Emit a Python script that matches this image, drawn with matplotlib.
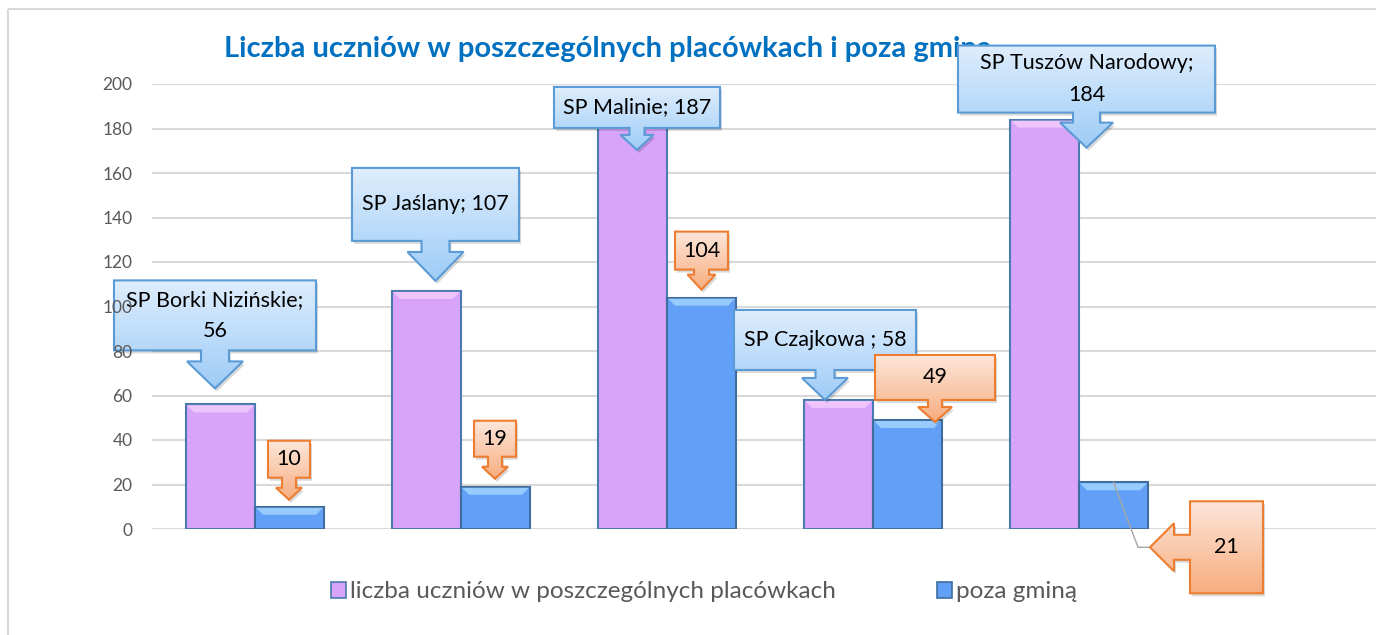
import numpy as np
import matplotlib.pyplot as plt
from matplotlib.patches import Polygon, Rectangle

plt.rcParams['font.family'] = ['Lato', 'DejaVu Sans']

# dane
schools = ["SP Borki Nizińskie", "SP Jaślany", "SP Malinie", "SP Czajkowa ", "SP Tuszów Narodowy"]
in_school = [56, 107, 187, 58, 184]
outside = [10, 19, 104, 49, 21]
y_ticks = [0, 20, 40, 60, 80, 100, 120, 140, 160, 180, 200]
series_names = ["liczba uczniów w poszczególnych placówkach", "poza gminą"]
title = "Liczba uczniów w poszczególnych placówkach i poza gminą"

# położenie dymków względem wierzchołka słupka (piksele)
blue_specs = [
    dict(dx=-5.5, dy=-89, w=202, h=70, sw=28, sl=11, hw=56, hl=27, wrap=True),
    dict(dx=9, dy=-86.5, w=167, h=73, sw=28, sl=11, hw=56, hl=29, wrap=False),
    dict(dx=4.5, dy=-5.5, w=166, h=41, sw=15, sl=7, hw=33, hl=15, wrap=False),
    dict(dx=-13.5, dy=-60, w=182, h=60, sw=19, sl=8, hw=46, hl=22, wrap=False),
    dict(dx=42, dy=-40.5, w=257, h=67, sw=27, sl=10, hw=53, hl=25, wrap=True),
]
orange_specs = [
    dict(dx=-0.5, dy=-47.5, w=42, h=37, sw=14, sl=10, hw=26, hl=12, side='down'),
    dict(dx=-0.5, dy=-48, w=42, h=36, sw=14, sl=10, hw=26, hl=12, side='down'),
    dict(dx=0, dy=-47, w=53, h=38, sw=15, sl=5, hw=28, hl=15, side='down'),
    dict(dx=27.5, dy=-42.5, w=120, h=45, sw=14, sl=7, hw=34, hl=15, side='down'),
    dict(dx=113, dy=65, w=73, h=92, sw=25, sl=16, hw=48, hl=24, side='left'),
]

W, H = 1376, 635
fig = plt.figure(figsize=(W / 100, H / 100), dpi=100)
pos = [152 / W, 106 / H, (W - 152) / W, 445 / H]
ax = fig.add_axes(pos)
ax.set_zorder(1)

x = np.arange(len(schools))
bw = 69 / 206
bars1 = ax.bar(x - bw / 2, in_school, bw, color='#D8A4FA', edgecolor='#4A7AB0', linewidth=1.5, zorder=3)
bars2 = ax.bar(x + bw / 2, outside, bw, color='#62A0F8', edgecolor='#3F6E9E', linewidth=1.5, zorder=3)

ax.set_xlim(-0.5, -0.5 + (W - 152) / 206)
ax.set_ylim(0, 200)
ax.set_yticks(y_ticks)
ax.set_xticks([])
ax.tick_params(axis='y', length=0, labelleft=False)
ax.grid(axis='y', color='#D9D9D9', linewidth=1.5, zorder=0)
for s in ax.spines.values():
    s.set_visible(False)

h1 = Rectangle((0, 0), 1, 1, facecolor='#D8A4FA', edgecolor='#4A7AB0', linewidth=1.2)
h2 = Rectangle((0, 0), 1, 1, facecolor='#62A0F8', edgecolor='#3F6E9E', linewidth=1.2)
ax.legend([h1, h2], series_names, loc='center', bbox_to_anchor=(704 / W, 1 - 592 / H),
          bbox_transform=fig.transFigure, ncol=2, frameon=False, fontsize=17.5,
          labelcolor='#595959', handlelength=0.6, handleheight=0.6,
          handletextpad=0.15, columnspacing=4.2)

# etykiety osi Y nad dymkami (jak w oryginale)
ax_lab = fig.add_axes(pos, sharey=ax)
ax_lab.set_zorder(3)
ax_lab.patch.set_visible(False)
ax_lab.set_xticks([])
ax_lab.tick_params(axis='y', length=0, pad=14, labelsize=12.5, labelcolor='#595959')
for s in ax_lab.spines.values():
    s.set_visible(False)

# warstwa na dymki, w pikselach
ov = fig.add_axes([0, 0, 1, 1])
ov.set_xlim(0, W)
ov.set_ylim(H, 0)
ov.set_autoscale_on(False)
ov.axis('off')
ov.set_zorder(2)

ov.add_patch(Rectangle((8, 9), W + 50, H + 50, fill=False, edgecolor='#D9D9D9', linewidth=1.5, zorder=0))
ov.text(608, 49, title, ha='center', va='center', fontsize=21, fontweight='bold',
        color='#0070C0', zorder=1)


def to_px(xd, yd):
    return ov.transData.inverted().transform(ax.transData.transform((xd, yd)))


# fazowanie górnej krawędzi słupków
for bars, light in [(bars1, '#F3CEFC'), (bars2, '#A6D6FF')]:
    for r in bars.patches:
        l, t = to_px(r.get_x(), r.get_height())
        rr, _ = to_px(r.get_x() + r.get_width(), 0)
        b = 8
        ov.add_patch(Polygon([(l + 1, t + 1), (rr - 1, t + 1), (rr - b, t + b), (l + b, t + b)],
                             closed=True, facecolor=light, edgecolor='none', alpha=0.8, zorder=2))


def callout_pts(cx, cy, s, side='down'):
    x0, x1 = cx - s['w'] / 2, cx + s['w'] / 2
    y0, y1 = cy - s['h'] / 2, cy + s['h'] / 2
    sw, sl, hw, hl = s['sw'], s['sl'], s['hw'], s['hl']
    if side == 'down':
        return np.array([(x0, y0), (x1, y0), (x1, y1), (cx + sw / 2, y1), (cx + sw / 2, y1 + sl),
                         (cx + hw / 2, y1 + sl), (cx, y1 + sl + hl), (cx - hw / 2, y1 + sl),
                         (cx - sw / 2, y1 + sl), (cx - sw / 2, y1), (x0, y1)])
    return np.array([(x0, y0), (x1, y0), (x1, y1), (x0, y1), (x0, cy + sw / 2), (x0 - sl, cy + sw / 2),
                     (x0 - sl, cy + hw / 2), (x0 - sl - hl, cy), (x0 - sl, cy - hw / 2),
                     (x0 - sl, cy - sw / 2), (x0, cy - sw / 2)])


def draw_callout(pts, c_top, c_bot, edge, z):
    ov.add_patch(Polygon(pts + np.array([2, 3]), closed=True, facecolor='black', alpha=0.15,
                         edgecolor='none', zorder=z - 0.1))
    clip = Polygon(pts, closed=True, facecolor='none', edgecolor='none', zorder=z)
    ov.add_patch(clip)
    t = np.linspace(0, 1, 64)[:, None, None]
    img = (1 - t) * np.array(c_top)[None, None, :] + t * np.array(c_bot)[None, None, :]
    im = ov.imshow(img, extent=(pts[:, 0].min(), pts[:, 0].max(), pts[:, 1].max(), pts[:, 1].min()),
                   aspect='auto', interpolation='bilinear', zorder=z)
    im.set_clip_path(clip)
    ov.add_patch(Polygon(pts, closed=True, facecolor='none', edgecolor=edge, linewidth=1.5, zorder=z + 0.1))


for i, (name, v) in enumerate(zip(schools, in_school)):
    s = blue_specs[i]
    ax_, ay_ = to_px(x[i] - bw / 2, v)
    cx, cy = ax_ + s['dx'], ay_ + s['dy']
    draw_callout(callout_pts(cx, cy, s), (0.87, 0.93, 0.99), (0.62, 0.80, 0.97), '#5B9BD5', 5)
    label = f"{name}; {v}"
    if s['wrap']:
        label = label.replace("; ", ";\n")
    ov.text(cx, cy, label, ha='center', va='center', fontsize=15.5, color='black',
            linespacing=1.7, zorder=6)

for i, v in enumerate(outside):
    s = orange_specs[i]
    ax_, ay_ = to_px(x[i] + bw / 2, v)
    cx, cy = ax_ + s['dx'], ay_ + s['dy']
    pts = callout_pts(cx, cy, s, s['side'])
    draw_callout(pts, (0.99, 0.90, 0.85), (0.97, 0.68, 0.50), '#ED7D31', 7)
    if s['side'] == 'left':
        tip_x, tip_y = pts[7]
        ov.plot([ax_, tip_x - 12, tip_x], [ay_, tip_y, tip_y], color='#A6A6A6', linewidth=1, zorder=4)
    ov.text(cx, cy, str(v), ha='center', va='center', fontsize=15.5, color='black', zorder=8)

fig.savefig('out.png', dpi=100)
